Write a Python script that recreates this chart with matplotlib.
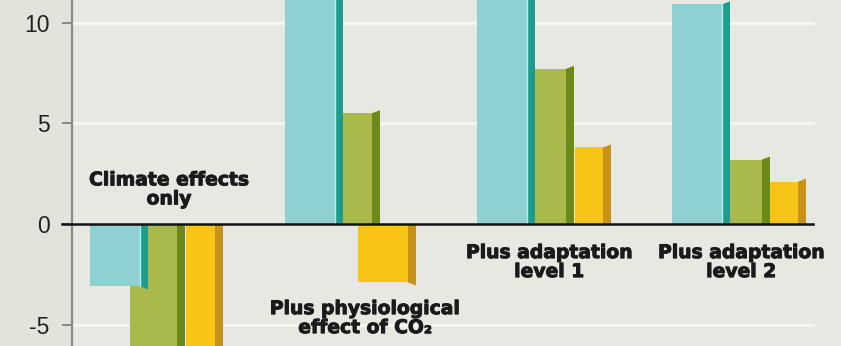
import matplotlib
matplotlib.use("Agg")
import matplotlib.pyplot as plt
import matplotlib.patheffects as pe
import numpy as np

plt.rcParams['axes.unicode_minus'] = False

# ---- data ----
categories = ["Climate effects\nonly",
              "Plus physiological\neffect of CO\u2082",
              "Plus adaptation\nlevel 1",
              "Plus adaptation\nlevel 2"]
cyan_vals = [-3.1, 12.5, 13.0, 10.9]
green_vals = [-7.0, 5.5, 7.7, 3.2]
yellow_vals = [-8.0, -2.9, 3.8, 2.1]
yticks = [10, 5, 0, -5]
ytick_labels = ["10", "5", "0", "-5"]

# ---- layout (px offsets from group centre; 194 px per group) ----
PX = 194.0
YPX = 20.15
cyan_left = np.array([-79, -78, -80, -79]) / PX
cyan_right = np.array([-29, -28, -30, -29]) / PX
green_left = np.array([-39, -21, -22, -23]) / PX
green_right = np.array([8, 9, 9, 11]) / PX
yellow_left = np.array([17, -5, 18, 19]) / PX
yellow_right = np.array([46, 45, 46, 47]) / PX
side_w = 8 / PX
slant = 3 / YPX
label_xy = [(0.0, 1.72), (1.01, -4.67), (1.96, -1.89), (2.95, -1.89)]

cols = {
    "cyan": ("#8fd1d3", "#1c9c8c", "#b5ecee"),
    "green": ("#a9b94b", "#6c8a1a", None),
    "yellow": ("#f8c416", "#c8921a", None),
}

fig = plt.figure(figsize=(8.41, 3.46), dpi=100, facecolor="#e2e3da")
ax = fig.add_axes([72 / 841, 0, 769 / 841, 1])
ax.set_facecolor("#e7e8e1")
ax.set_xlim(-0.5, -0.5 + 769 / PX)
ax.set_ylim(-(346 - 224) / YPX, 224 / YPX)

x = np.arange(len(categories))

# grid lines
for yv in [10, 5, -5]:
    ax.axhline(yv, xmin=0, xmax=0.964, color="#f7f7f2", lw=2.0, zorder=1)

def draw(vals, left, right, key, z):
    front, side, edge = cols[key]
    vals = np.array(vals, dtype=float)
    ax.bar(x + left, vals, width=right - left, align="edge",
           color=front, zorder=z, linewidth=0)
    for xi, v, r in zip(x, vals, right):
        x0 = xi + r
        x1 = x0 + side_w
        s = slant * np.sign(v)
        ax.fill([x0, x0, x1, x1], [0, v, v + s, 0], color=side,
                zorder=z, linewidth=0)
        if edge:
            ax.plot([x0, x0], [0, v], color=edge, lw=1.0, zorder=z + 0.1)

draw(yellow_vals, yellow_left, yellow_right, "yellow", 2)
draw(green_vals, green_left, green_right, "green", 3)
draw(cyan_vals, cyan_left, cyan_right, "cyan", 4)

ax.axhline(0, xmin=-10 / 769, xmax=0.964, color="#111111", lw=1.8,
           zorder=6, clip_on=False)

for (lx, ly), lab in zip(label_xy, categories):
    ax.text(lx, ly, lab, ha="center", va="center", fontsize=13.5,
            fontweight="bold", color="#1a1a1a", linespacing=1.0,
            family="DejaVu Sans", zorder=7,
            path_effects=[pe.withStroke(linewidth=0.7, foreground="#1a1a1a")])

for s in ["top", "right", "bottom"]:
    ax.spines[s].set_visible(False)
ax.spines["left"].set_color("#8a8a86")
ax.spines["left"].set_linewidth(1.6)
ax.set_xticks([])
ax.set_yticks(yticks)
ax.set_yticklabels(ytick_labels, fontsize=16.5, family="Liberation Sans",
                   color="#222222")
ax.tick_params(axis="y", length=7, width=1.4, color="#8a8a86", pad=9)

fig.savefig("out.png", dpi=100, facecolor=fig.get_facecolor())
